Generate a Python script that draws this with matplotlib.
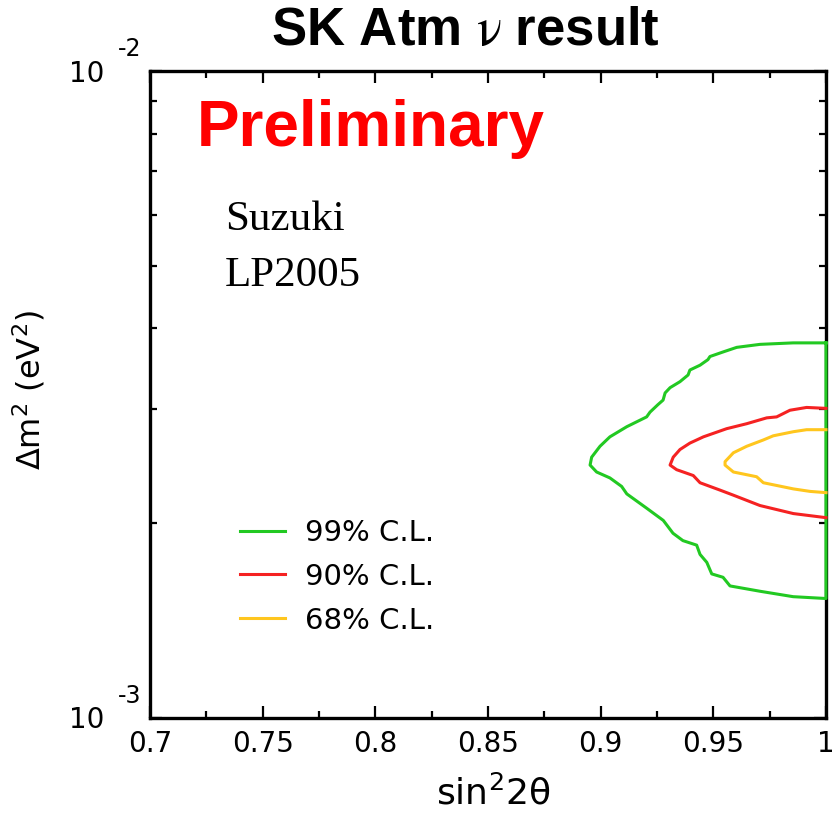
import matplotlib
matplotlib.use("Agg")
import numpy as np
import matplotlib.pyplot as plt
from matplotlib.ticker import FixedLocator, NullFormatter, LogLocator

# Allowed-region contours: sin^2(2 theta) and Delta m^2 (eV^2)
cl99_s2 = [1.000, 0.9854, 0.9707, 0.9604, 0.9544, 0.9485, 0.9476, 0.9441, 0.9396,
           0.9388, 0.9352, 0.9308, 0.9286, 0.9277, 0.9254, 0.9219, 0.9204, 0.9116,
           0.9041, 0.8997, 0.8960, 0.8953, 0.8982, 0.9041, 0.9093, 0.9116, 0.9204,
           0.9278, 0.9321, 0.9365, 0.9426, 0.9441, 0.9471, 0.9493, 0.9543, 0.9574,
           0.9707, 0.9854, 1.000, 1.000]
cl99_dm2 = [3.80e-3, 3.80e-3, 3.78e-3, 3.74e-3, 3.68e-3, 3.62e-3, 3.58e-3, 3.51e-3,
            3.45e-3, 3.39e-3, 3.31e-3, 3.24e-3, 3.18e-3, 3.10e-3, 3.05e-3, 2.97e-3,
            2.92e-3, 2.82e-3, 2.72e-3, 2.63e-3, 2.53e-3, 2.46e-3, 2.40e-3, 2.35e-3,
            2.28e-3, 2.22e-3, 2.11e-3, 2.02e-3, 1.93e-3, 1.88e-3, 1.85e-3, 1.79e-3,
            1.74e-3, 1.67e-3, 1.65e-3, 1.60e-3, 1.57e-3, 1.54e-3, 1.53e-3, 3.80e-3]

cl90_s2 = [1.000, 0.9914, 0.9840, 0.9781, 0.9737, 0.9648, 0.9559, 0.9456, 0.9396,
           0.9352, 0.9322, 0.9308, 0.9337, 0.9411, 0.9441, 0.9530, 0.9589, 0.9707,
           0.9855, 1.000]
cl90_dm2 = [3.01e-3, 3.02e-3, 2.99e-3, 2.92e-3, 2.91e-3, 2.85e-3, 2.80e-3, 2.72e-3,
            2.66e-3, 2.60e-3, 2.53e-3, 2.46e-3, 2.42e-3, 2.37e-3, 2.31e-3, 2.25e-3,
            2.21e-3, 2.13e-3, 2.07e-3, 2.04e-3]

cl68_s2 = [1.000, 0.9914, 0.9855, 0.9766, 0.9722, 0.9648, 0.9589, 0.9552, 0.9552,
           0.9589, 0.9692, 0.9722, 0.9855, 0.9929, 1.000]
cl68_dm2 = [2.79e-3, 2.79e-3, 2.77e-3, 2.73e-3, 2.69e-3, 2.63e-3, 2.57e-3, 2.49e-3,
            2.46e-3, 2.40e-3, 2.36e-3, 2.31e-3, 2.26e-3, 2.24e-3, 2.23e-3]

cl_labels = ["99% C.L.", "90% C.L.", "68% C.L."]
cl_colors = ["#22c922", "#f52222", "#ffc61e"]

x_ticks = [0.7, 0.75, 0.8, 0.85, 0.9, 0.95, 1.0]
x_tick_labels = ["0.7", "0.75", "0.8", "0.85", "0.9", "0.95", "1"]
x_minor = [0.725, 0.775, 0.825, 0.875, 0.925, 0.975]
y_decades = [1e-3, 1e-2]

plt.rcParams["font.family"] = ["DejaVu Sans"]

fig = plt.figure(figsize=(8.33, 8.15), dpi=100)
ax = fig.add_axes([150 / 833, 1 - 718 / 815, 676 / 833, 647 / 815])

ax.set_xlim(0.7, 1.0)
ax.set_yscale("log")
ax.set_ylim(1e-3, 1e-2)

for s2, dm2, lab, col in zip([cl99_s2, cl90_s2, cl68_s2],
                             [cl99_dm2, cl90_dm2, cl68_dm2],
                             cl_labels, cl_colors):
    ax.plot(s2, dm2, color=col, lw=2.2, label=lab, zorder=4, clip_on=False,
            solid_joinstyle="round")

# frame and ticks
for sp in ax.spines.values():
    sp.set_linewidth(2.4)
ax.xaxis.set_major_locator(FixedLocator(x_ticks))
ax.xaxis.set_minor_locator(FixedLocator(x_minor))
ax.set_xticklabels(x_tick_labels)
ax.yaxis.set_major_locator(FixedLocator(y_decades))
ax.yaxis.set_minor_locator(LogLocator(base=10, subs=np.arange(2, 10)))
ax.yaxis.set_major_formatter(NullFormatter())
ax.yaxis.set_minor_formatter(NullFormatter())
ax.tick_params(which="both", direction="in", top=True, right=True, width=1.6)
ax.tick_params(which="major", length=8.5)
ax.tick_params(which="minor", length=5)
ax.tick_params(axis="x", which="major", labelsize=20, pad=9)

# decade labels on the log axis, drawn as base and raised exponent
for val in y_decades:
    exp = int(round(np.log10(val)))
    ax.annotate("10", xy=(0, val), xycoords=("axes fraction", "data"),
                xytext=(-45.5, -1.8), textcoords="offset points",
                ha="center", va="center", fontsize=20)
    ax.annotate(f"-{abs(exp)}" if exp < 0 else f"{exp}", xy=(0, val),
                xycoords=("axes fraction", "data"),
                xytext=(-14.5, 15.5), textcoords="offset points",
                ha="center", va="center", fontsize=17)

ax.set_xlabel(r"sin$^2$2θ", fontsize=26)
ax.xaxis.set_label_coords(0.507, -0.088)
ax.set_ylabel(r"Δm$^2$ (eV$^2$)", fontsize=23)
ax.yaxis.set_label_coords(-0.151, 0.507)

ax.text(0.0695, 0.884, "Preliminary", transform=ax.transAxes, color="#ff0000",
        fontsize=46, fontweight="bold", family="Liberation Sans", va="baseline")
ax.text(0.111, 0.754, "Suzuki", transform=ax.transAxes, fontsize=31,
        family="Liberation Serif", va="baseline")
ax.text(0.111, 0.667, "LP2005", transform=ax.transAxes, fontsize=31,
        family="Liberation Serif", va="baseline")

leg = ax.legend(loc="upper left", bbox_to_anchor=(0.133, 0.308), frameon=False,
                fontsize=21, handlelength=1.54, handletextpad=0.68,
                labelspacing=0.545, borderpad=0, borderaxespad=0)

fig.text(465 / 833, 1 - 31 / 815, r"SK Atm $\mathrm{\nu}$ result", ha="center",
         va="center", fontsize=38, fontweight="bold", family="Liberation Sans",
         math_fontfamily="stix")

fig.savefig("out.png", dpi=100, facecolor="white")
